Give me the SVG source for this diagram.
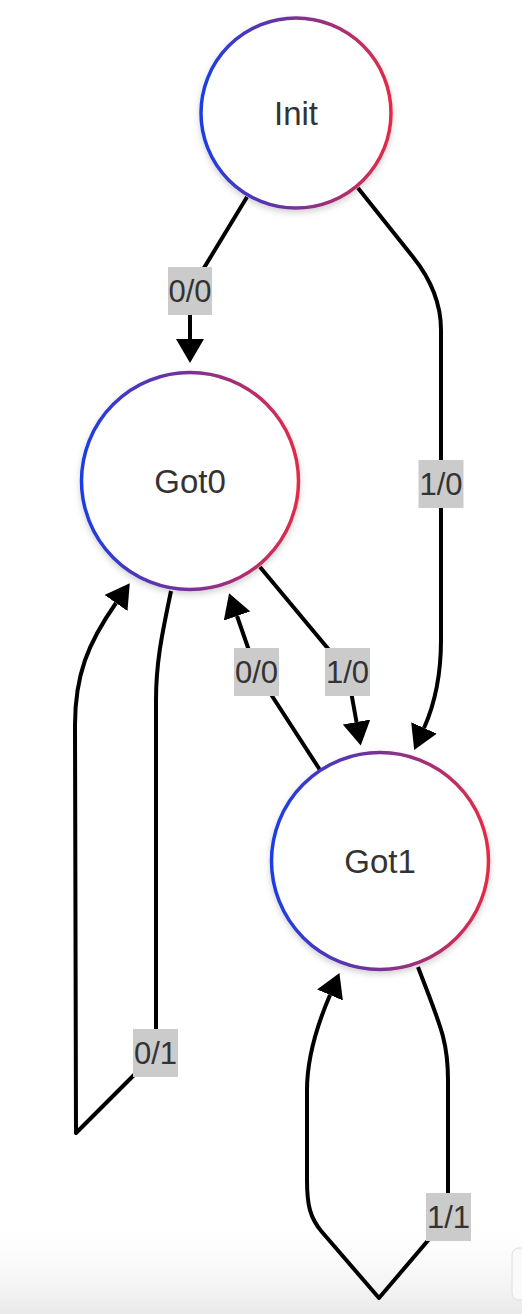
<svg xmlns="http://www.w3.org/2000/svg" width="522" height="1314" viewBox="0 0 522 1314">
<defs>
<linearGradient id="ring" x1="0" y1="0" x2="1" y2="0">
<stop offset="0" stop-color="#1a3ee6"/>
<stop offset="0.5" stop-color="#7a3195"/>
<stop offset="1" stop-color="#e22c48"/>
</linearGradient>
<linearGradient id="fade" x1="0" y1="0" x2="0" y2="1">
<stop offset="0" stop-color="#ffffff" stop-opacity="0"/>
<stop offset="1" stop-color="#e9e9e9" stop-opacity="1"/>
</linearGradient>
<filter id="shadow" x="-20%" y="-20%" width="140%" height="140%">
<feDropShadow dx="0" dy="3" stdDeviation="3" flood-color="#000" flood-opacity="0.18"/>
</filter>
<marker id="arrow" markerUnits="userSpaceOnUse" markerWidth="24" markerHeight="28" refX="0" refY="14" orient="auto" viewBox="0 0 24 28">
<path d="M0,0 L24,14 L0,28 z" fill="#000"/>
</marker>
</defs>
<style>
.node circle{fill:#fff;stroke:url(#ring);stroke-width:3.5;filter:url(#shadow)}
.node text{font-family:"Liberation Sans",Arial,sans-serif;font-size:33px;fill:#333;text-anchor:middle}
.edge{fill:none;stroke:#000;stroke-width:4;stroke-linejoin:round}
.arr{marker-end:url(#arrow)}
.label rect{fill:#cbcbcb}
.label text{font-family:"Liberation Sans",Arial,sans-serif;font-size:31px;fill:#333;text-anchor:middle}
</style>
<rect x="0" y="0" width="522" height="1314" fill="#fff"/>
<rect x="0" y="1215" width="522" height="99" fill="url(#fade)"/>
<rect x="512" y="1248" width="30" height="52" rx="7" fill="#fafafa" stroke="#dedede" stroke-width="1"/>

<g id="connectors">
<path class="edge arr" d="M247,197 L190,291 L190,339"/>
<path class="edge arr" d="M358,188 L413,257 Q441,292 441,330 L441,640 Q441,690 424,728"/>
<path class="edge arr" d="M260,567 L347.5,672 L356.5,722"/>
<path class="edge arr" d="M320,770 L256.5,672 L237,616"/>
<path class="edge arr" d="M171,591 C163,630 156,660 156,700 L156,1053 L76,1133 L75,725 C75,675 88,643 116,603"/>
<path class="edge arr" d="M418,967 C440,1025 448,1040 448,1080 L448,1217 L379,1298 L322,1232 C310,1218 307,1205 307,1180 L307,1090 C307,1060 315,1030 330,995"/>
<g class="label"><rect x="168" y="267" width="44" height="48"/><text x="190" y="302">0/0</text></g>
<g class="label"><rect x="418.5" y="460" width="45" height="48"/><text x="441" y="495">1/0</text></g>
<g class="label"><rect x="325" y="648" width="45" height="48"/><text x="347.5" y="683">1/0</text></g>
<g class="label"><rect x="234" y="648" width="45" height="48"/><text x="256.5" y="683">0/0</text></g>
<g class="label"><rect x="133" y="1029" width="45" height="48"/><text x="155.5" y="1064">0/1</text></g>
<g class="label"><rect x="426" y="1193" width="45" height="48"/><text x="448.5" y="1228">1/1</text></g>
</g>

<g id="Init" class="node"><circle cx="296" cy="113" r="95"/><text x="296" y="125">Init</text></g>
<g id="Got0" class="node"><circle cx="190" cy="481" r="108.5"/><text x="190" y="493">Got0</text></g>
<g id="Got1" class="node"><circle cx="380" cy="861" r="108.5"/><text x="380" y="873">Got1</text></g>
</svg>
